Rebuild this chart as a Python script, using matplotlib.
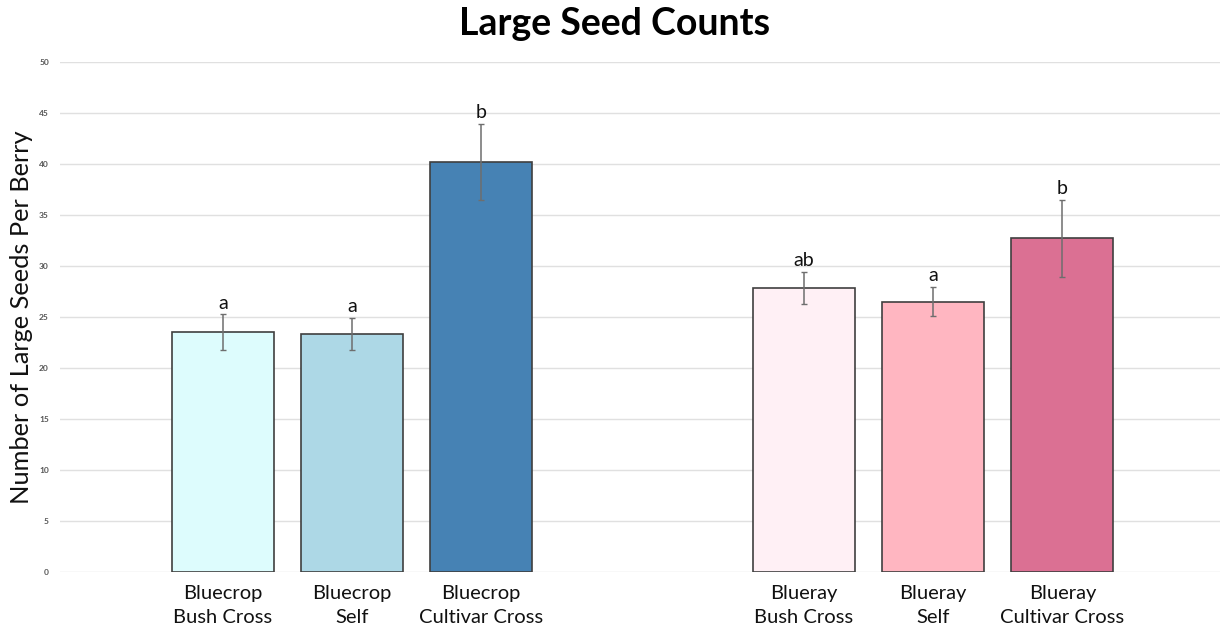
import matplotlib
matplotlib.use("Agg")
import matplotlib.pyplot as plt
import numpy as np

categories = ["Bluecrop\nBush Cross", "Bluecrop\nSelf", "Bluecrop\nCultivar Cross",
              "Blueray\nBush Cross", "Blueray\nSelf", "Blueray\nCultivar Cross"]
means = [23.5, 23.35, 40.2, 27.85, 26.5, 32.7]
errors = [1.75, 1.55, 3.75, 1.55, 1.45, 3.8]
letters = ["a", "a", "b", "ab", "a", "b"]
colors = ["#DDFCFD", "#ADD8E6", "#4682B4", "#FFF0F5", "#FFB6C1", "#DB7093"]
positions = [0, 1, 2, 4.5, 5.5, 6.5]
yticks = [0, 5, 10, 15, 20, 25, 30, 35, 40, 45, 50]

plt.rcParams['font.family'] = ['Lato', 'DejaVu Sans']

fig = plt.figure(figsize=(12.21, 6.34), dpi=100)
ax = fig.add_axes([60/1221, 1-572/634, 1160/1221, 510/634])

ax.bar(positions, means, width=0.79, color=colors, edgecolor="#3f3f3f", linewidth=1.2, zorder=3)
ax.errorbar(positions, means, yerr=errors, fmt="none", ecolor="#6e6e6e", elinewidth=1.1,
            capsize=2.5, capthick=1.0, zorder=4)
for x, m, e, l in zip(positions, means, errors, letters):
    ax.annotate(l, (x, m + e), xytext=(0, 2), textcoords="offset points",
                ha="center", va="bottom", fontsize=14, color="#111111")

ax.set_xlim(-1.26, 7.72)
ax.set_ylim(0, 50)
ax.set_yticks(yticks)
ax.set_yticklabels([str(t) for t in yticks], fontsize=6, color="#555555", fontweight="bold")
ax.set_xticks(positions)
ax.set_xticklabels(categories, fontsize=14.5, color="#111111", linespacing=1.55)
ax.tick_params(axis="both", length=0)
ax.tick_params(axis="y", pad=8)
ax.tick_params(axis="x", pad=9)
ax.grid(axis="y", color="#e0e0e0", linewidth=1.0, zorder=0)
for s in ax.spines.values():
    s.set_visible(False)

ax.set_ylabel("Number of Large Seeds Per Berry", fontsize=18.3, color="#111111")
ax.yaxis.set_label_coords(-27/1160, 0.5)
fig.text(0.503, 1-24/634, "Large Seed Counts", ha="center", va="center",
         fontsize=27, fontweight="bold", color="#000000")

fig.savefig("out.png", dpi=100, facecolor="white")
